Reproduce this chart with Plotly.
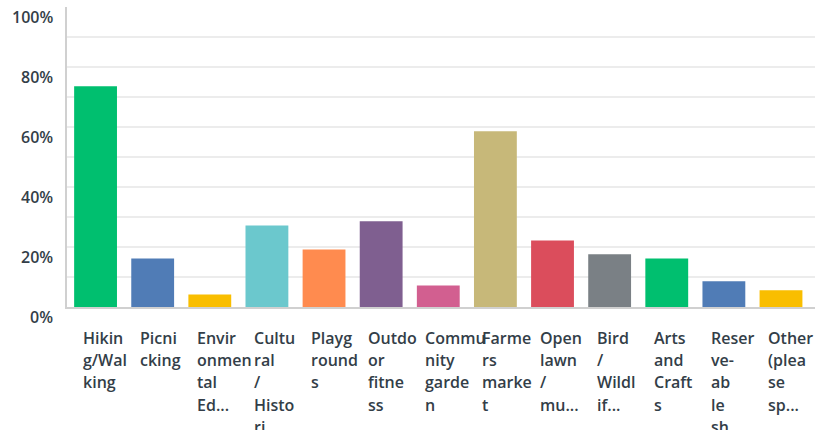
import plotly.graph_objects as go

categories = ["Hiking/Walking", "Picnicking", "Environmental Ed...", "Cultural / Histori",
              "Playgrounds", "Outdoor fitness", "Community garden", "Farmers market",
              "Open lawn / mu...", "Bird / Wildlif...", "Arts and Crafts",
              "Reserve-able sh", "Other (please sp..."]
label_lines = [
    ["Hikin", "g/Wal", "king"],
    ["Picni", "cking"],
    ["Envir", "onmen", "tal", "Ed..."],
    ["Cultu", "ral", "/", "Histo", "ri"],
    ["Playg", "round", "s"],
    ["Outdo", "or", "fitne", "ss"],
    ["Commu", "nity", "garde", "n"],
    ["Farme", "rs", "marke", "t"],
    ["Open", "lawn", "/", "mu..."],
    ["Bird", "/", "Wildl", "if..."],
    ["Arts", "and", "Craft", "s"],
    ["Reser", "ve-", "ab", "le", "sh"],
    ["Other", "(plea", "se", "sp..."],
]
values = [0.736, 0.162, 0.042, 0.272, 0.192, 0.286, 0.072, 0.586, 0.222, 0.176, 0.162, 0.086, 0.056]
colors = ["#00BF6F", "#507CB6", "#F9BE00", "#6BC8CD", "#FF8B4F", "#7F5F90", "#D25F90",
          "#C7B879", "#DB4D5C", "#7A8085", "#00BF6F", "#507CB6", "#F9BE00"]
tick_vals = [0, 0.2, 0.4, 0.6, 0.8, 1.0]
tick_text = ["0%", "20%", "40%", "60%", "80%", "100%"]

TEXT = "#333e48"
FONT = "Open Sans"

fig = go.Figure(go.Bar(x=categories, y=values, marker=dict(color=colors, line=dict(width=0)),
                       hoverinfo="skip"))

annotations = []
for cat, lines in zip(categories, label_lines):
    for i, ln in enumerate(lines):
        annotations.append(dict(x=cat, y=0, xref="x", yref="y", text=ln, showarrow=False,
                                xanchor="left", yanchor="middle", xshift=-15,
                                yshift=-(31 + i * 22.2),
                                font=dict(family=FONT, size=16, color=TEXT, weight=600)))
for v, t in zip(tick_vals, tick_text):
    annotations.append(dict(x=0, y=v, xref="paper", yref="y", text=t, showarrow=False,
                            xanchor="right", yanchor="middle", xshift=-12, yshift=-10,
                            font=dict(family=FONT, size=16, color=TEXT, weight=600)))

fig.update_layout(
    width=815, height=430,
    margin=dict(l=67, r=0, t=7, b=123),
    paper_bgcolor="white", plot_bgcolor="white",
    bargap=0.25, showlegend=False,
    annotations=annotations,
    xaxis=dict(showticklabels=False, showline=True, linecolor="#d0d0d0", linewidth=2,
               ticks="", showgrid=False, fixedrange=True),
    yaxis=dict(range=[0, 1], dtick=0.1, showticklabels=False,
               showline=True, linecolor="#d0d0d0", linewidth=2,
               showgrid=True, gridcolor="#ececec", gridwidth=2,
               ticks="", zeroline=False, fixedrange=True),
)

fig.write_html("out.html", config={"displayModeBar": False},
               post_script="document.body.style.margin='0';")
